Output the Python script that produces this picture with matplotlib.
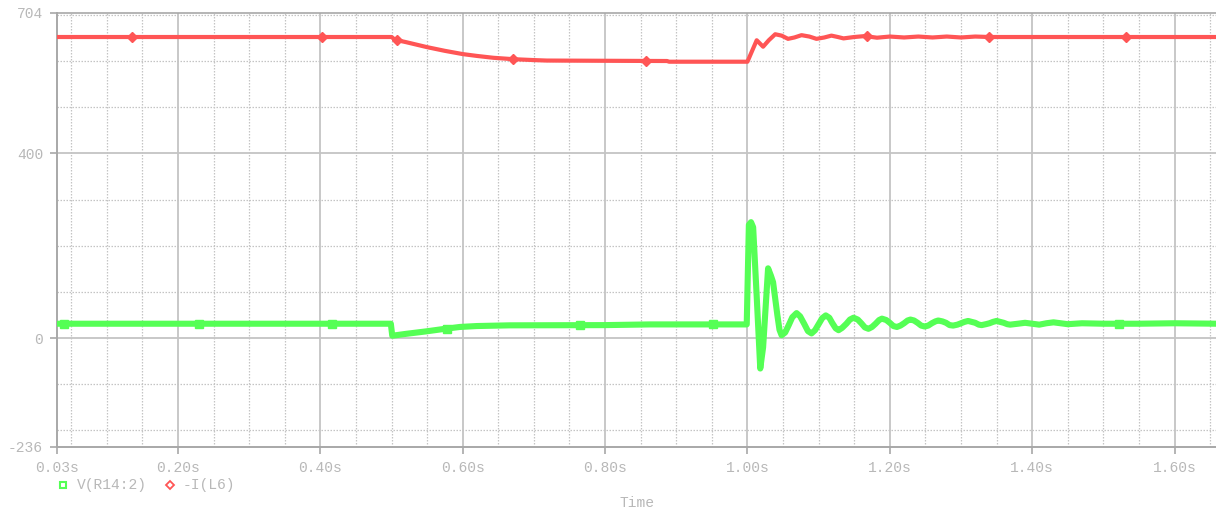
import numpy as np
import matplotlib.pyplot as plt
from matplotlib.lines import Line2D

# Transient results: V(R14:2) and -I(L6)
v_t = [0.03, 0.499, 0.501, 0.52, 0.549, 0.575, 0.596, 0.62, 0.666, 0.80, 0.863, 0.999,
       1.002, 1.005, 1.008, 1.013, 1.018, 1.022, 1.029, 1.033, 1.036, 1.042, 1.045,
       1.048, 1.053, 1.058, 1.063, 1.069, 1.074, 1.080, 1.085, 1.090, 1.095, 1.100,
       1.105, 1.110, 1.115, 1.119, 1.124, 1.128, 1.133, 1.139, 1.144, 1.149, 1.155,
       1.160, 1.165, 1.170, 1.175, 1.180, 1.185, 1.189, 1.195, 1.200, 1.205, 1.210,
       1.215, 1.220, 1.225, 1.229, 1.234, 1.239, 1.244, 1.249, 1.254, 1.259, 1.264,
       1.268, 1.274, 1.279, 1.284, 1.289, 1.295, 1.300, 1.305, 1.310, 1.315, 1.320,
       1.325, 1.329, 1.335, 1.340, 1.345, 1.350, 1.355, 1.360, 1.365, 1.369, 1.38,
       1.39, 1.40, 1.41, 1.42, 1.43, 1.44, 1.45, 1.47, 1.50, 1.55, 1.60, 1.66]
v_val = [31, 31, 5, 9, 14.5, 20, 24, 26, 27.5, 28, 29.5, 29.5,
         245, 251, 240, 90, -66, -20, 151, 135, 121, 50, 18,
         6, 12, 28, 45, 54, 47, 30, 15, 10, 17, 30,
         43, 49, 44, 33, 21, 17, 22, 31, 40, 44, 40,
         32, 23, 20, 24, 31, 39, 42, 39, 33, 26, 24,
         27, 32, 38, 40, 38, 33, 27, 25, 27, 32, 36,
         38, 36, 33, 28, 27, 29, 32, 35, 37, 35, 33,
         29, 28, 30, 32, 35, 37, 35, 33, 30, 29, 31,
         33, 31, 29, 32, 34, 32, 30, 32, 31, 31, 32, 31]

i_t = [0.03, 0.500, 0.505, 0.52, 0.55, 0.575, 0.60, 0.62, 0.643, 0.671, 0.70, 0.718,
       0.80, 0.887, 0.89, 1.000, 1.006, 1.013, 1.022, 1.030, 1.039, 1.048, 1.057, 1.066,
       1.076, 1.087, 1.097, 1.108, 1.118, 1.127, 1.135, 1.150, 1.165, 1.182, 1.20, 1.22,
       1.24, 1.26, 1.28, 1.30, 1.32, 1.34, 1.36, 1.66]
i_val = [652, 652, 646, 641, 630, 622, 615, 611, 607, 604, 602, 601,
         600.5, 600, 598.5, 598.5, 620, 645, 631, 645, 658, 655, 648, 651,
         656, 653, 648, 651, 655, 652, 649, 652, 654, 650.5, 653, 651,
         653, 651, 653, 651, 653, 652, 652, 652]

# sparse symbol positions along each trace
v_marks = [0.04, 0.229, 0.416, 0.578, 0.765, 0.952, 1.522]
i_marks = [0.135, 0.402, 0.508, 0.671, 0.857, 1.168, 1.339, 1.532]

x_ticks = [0.03, 0.20, 0.40, 0.60, 0.80, 1.00, 1.20, 1.40, 1.60]
x_labels = ["0.03s", "0.20s", "0.40s", "0.60s", "0.80s", "1.00s", "1.20s", "1.40s", "1.60s"]
y_ticks = [-236, 0, 400, 704]

GREEN = "#55ff55"
RED = "#ff5555"
TXT = "#b8b8b8"
GRID = "#c4c4c4"
FONT = "Liberation Mono"

fig = plt.figure(figsize=(12.16, 5.12), dpi=100)
W, H = 1216, 512
ax = fig.add_axes([57 / W, 1 - 447 / H, (W - 57) / W, (447 - 13) / H])
ax.set_xlim(0.03, 0.03 + 1159 / 711.8)
ax.set_ylim(-236, 704)

# grid: solid at labelled positions, dotted in between
for x in np.arange(0.05, 1.66, 0.05):
    if abs(x / 0.2 - round(x / 0.2)) < 1e-6:
        ax.axvline(x, color=GRID, lw=1.3, zorder=0)
    else:
        ax.axvline(x, color=GRID, lw=0.9, ls=(0, (1.2, 1.2)), zorder=0)
for y in [-200, -100, 100, 200, 300, 500, 600, 700]:
    ax.axhline(y, color=GRID, lw=0.9, ls=(0, (1.2, 1.2)), zorder=0)
for y in [0, 400]:
    ax.axhline(y, color=GRID, lw=1.3, zorder=0)

ax.plot(v_t, v_val, color=GREEN, lw=4.4, zorder=3)
ax.plot(i_t, i_val, color=RED, lw=3.0, zorder=3)
ax.plot(v_marks, np.interp(v_marks, v_t, v_val), ls="none", marker="s",
        ms=6, color=GREEN, zorder=4)
ax.plot(i_marks, np.interp(i_marks, i_t, i_val), ls="none", marker="D",
        ms=5.5, color=RED, zorder=4)

ax.spines["right"].set_visible(False)
ax.spines["top"].set_color("#a8a8a8")
ax.spines["top"].set_linestyle((0, (1.5, 1)))
ax.spines["top"].set_linewidth(1.2)
for side in ["left", "bottom"]:
    ax.spines[side].set_color("#a8a8a8")
    ax.spines[side].set_linewidth(1.4)

ax.set_xticks(x_ticks)
ax.set_xticklabels(x_labels)
ax.set_yticks(y_ticks)
ax.set_yticklabels([str(v) for v in y_ticks])
ax.tick_params(direction="out", length=5, width=1.2, color="#a8a8a8",
               labelcolor=TXT, labelsize=10.5, pad=5)
for lab in ax.get_xticklabels() + ax.get_yticklabels():
    lab.set_fontfamily(FONT)

# legend row under the plot
fig.add_artist(Line2D([63 / W], [1 - 485 / H], marker="s", ms=5, mfc="none",
                      mec=GREEN, mew=1.5, ls="none"))
fig.text(77 / W, 1 - 485 / H, "V(R14:2)", color=TXT, fontsize=10.5,
         family=FONT, va="center", ha="left")
fig.add_artist(Line2D([170 / W], [1 - 485 / H], marker="D", ms=4.5, mfc="none",
                      mec=RED, mew=1.3, ls="none"))
fig.text(183 / W, 1 - 485 / H, "-I(L6)", color=TXT, fontsize=10.5,
         family=FONT, va="center", ha="left")

fig.text(637 / W, 1 - 503 / H, "Time", color=TXT, fontsize=10.5,
         family=FONT, va="center", ha="center")

fig.savefig("out.png", dpi=100)
